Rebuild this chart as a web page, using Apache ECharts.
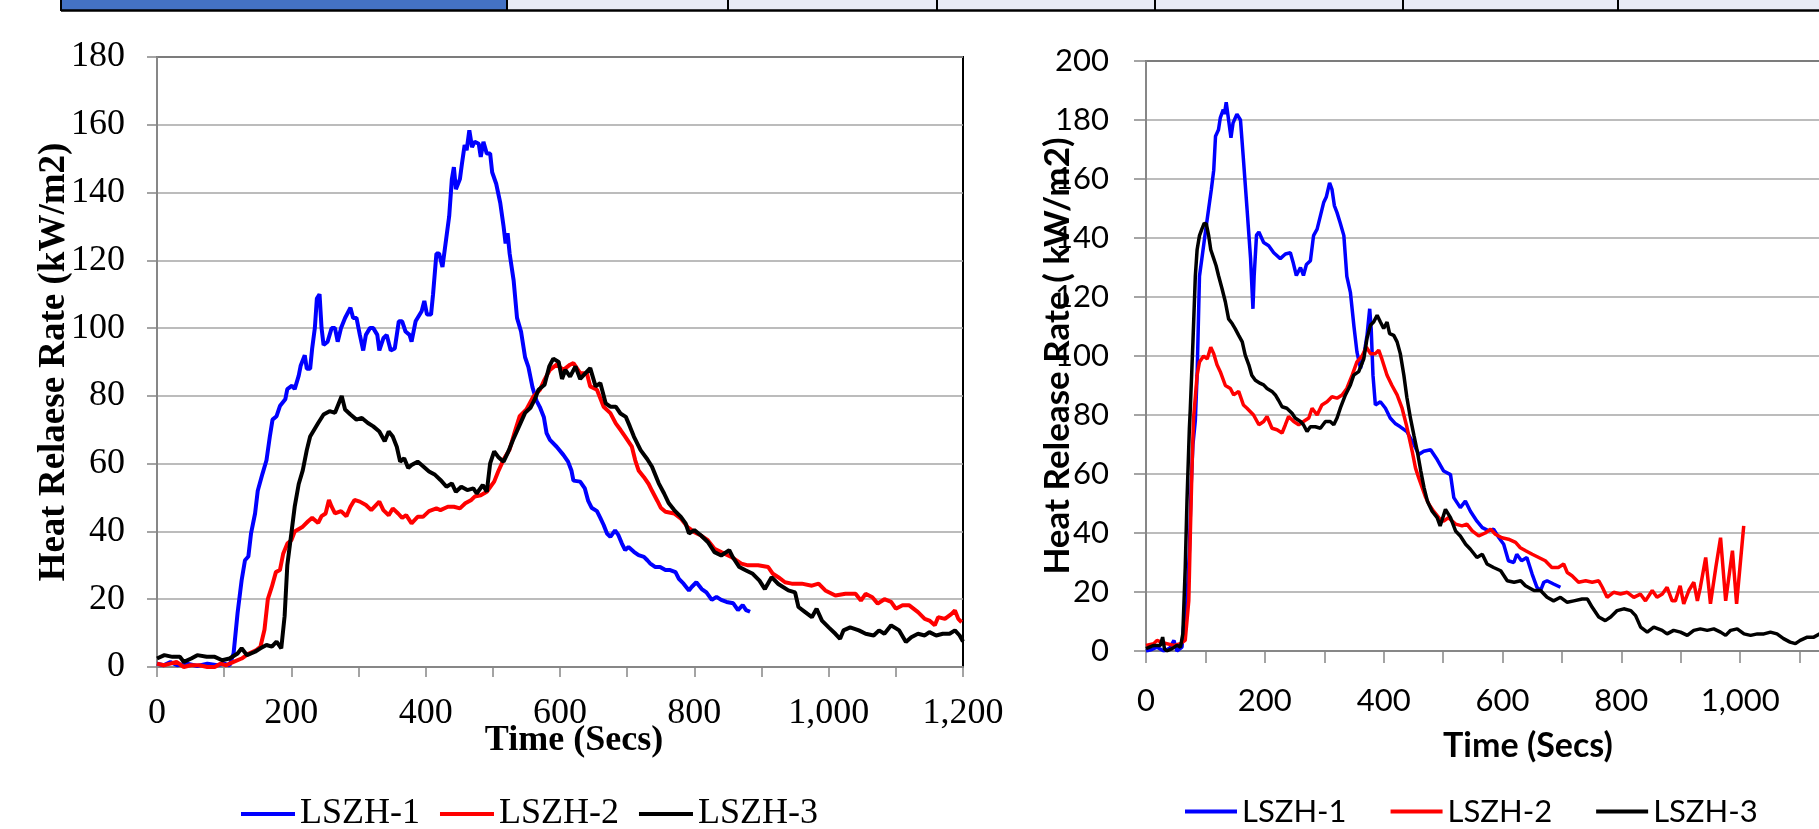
<!DOCTYPE html>
<html>
<head>
<meta charset="utf-8">
<title>Heat Release Rate - LSZH</title>
<script src="https://cdn.jsdelivr.net/npm/echarts@6.0.0/dist/echarts.min.js"></script>
<style>
  html, body { margin: 0; padding: 0; background: #fff; }
  #echart { width: 1819px; height: 829px; }
</style>
</head>
<body>
<div id="echart"></div>
<script>
const names = ['LSZH-1', 'LSZH-2', 'LSZH-3'];
const colors = ['#0000ff', '#ff0000', '#000000'];

// left chart: [time (secs), HRR (kW/m2)]
const leftLszh1 = [[0,1],[10,0.5],[20,1.5],[30,0.5],[45,1],[60,0.3],[75,1],[90,0.5],[100,1],[108,0.5],[114,4],[120,16],[126,25.6],[131,31.5],[136,32.6],[140,39.4],[146,45.3],[150,52],[157,57],[163,61],[168,68],[172,73],[178,74],[183,77],[191,79],[194,82],[201,83],[205,82],[211,86],[214,89],[220,92],[223,88],[228,88],[231,94],[235,100],[238,108.7],[242,110],[245,100],[248,95],[254,96],[260,100],[265,100],[269,96],[274,100],[280,103],[288,106],[292,103],[297,103],[302,98],[307,93.4],[311,98],[317,100],[322,100],[328,98],[331,93.4],[337,97],[342,98],[348,93.4],[354,94],[360,102],[365,102],[370,99],[376,98],[379,96],[385,102],[394,105],[398,108],[402,104],[408,104],[411,110],[416,122],[420,122],[425,118],[431,127],[435,133],[439,144],[442,147.5],[445,141],[451,144],[454,148.5],[458,154],[461,152.5],[465,158.4],[469,153.4],[473,155],[479,154.4],[482,150.5],[486,155],[491,151.5],[496,151.5],[499,146],[505,142.6],[511,137],[516,130],[519,125],[522,128],[525,122],[531,114],[536,103],[542,99],[548,91.4],[553,88.5],[559,82.6],[565,78.6],[570,76.7],[576,73.7],[580,69],[585,67],[595,65],[605,62.6],[612,60.6],[617,58],[620,55],[630,54.7],[637,52.7],[642,49],[647,47],[655,46],[660,44],[665,41.9],[670,39.4],[675,38.4],[682,40.3],[687,38.9],[692,36.5],[697,34.5],[702,35.4],[710,34],[717,33],[725,32.5],[730,31.5],[734,30.6],[742,29.5],[749,29.5],[757,28.6],[764,28.6],[772,28],[777,26],[784,24.6],[792,22.6],[796,23.6],[803,25],[811,23],[818,22],[826,19.8],[833,20.7],[840,19.8],[848,19.2],[858,18.8],[865,16.8],[872,18.3],[877,16.8],[883,16.3]];
const leftLszh2 = [[0,1],[10,0.5],[20,1],[29,1.5],[40,0],[50,0.5],[63,0.5],[75,0],[86,0],[95,1],[103,0.5],[114,1.5],[126,2.5],[137,4],[148,5],[154,6],[160,11],[165,20],[171,23.7],[177,28],[183,28.6],[188,33.5],[194,36.4],[200,37.4],[205,40],[217,41.4],[225,43],[231,44],[240,42.5],[245,44.5],[251,45.3],[256,49.3],[260,47.3],[265,45.3],[274,46],[282,44.5],[288,47.3],[294,49.3],[302,48.8],[311,47.8],[319,46.3],[331,48.8],[337,46.3],[345,44.8],[351,46.8],[359,45.3],[365,44],[371,44.8],[379,42.4],[388,44.3],[396,44.3],[405,46],[416,46.8],[422,46.3],[433,47.3],[442,47.3],[451,46.8],[459,48.3],[468,49.3],[473,50.3],[482,50.7],[491,51.7],[502,54.7],[508,57.7],[516,61.2],[525,64.2],[533,69.6],[540,74],[550,76],[560,79.7],[570,81.8],[577,84.8],[585,87.7],[595,89.2],[605,87.7],[615,89.2],[620,89.7],[630,86.7],[640,86.7],[645,82.8],[655,81.8],[665,76.8],[675,74.9],[683,71.9],[690,70],[697,68],[707,65],[712,61],[717,58],[725,56],[732,54],[737,52],[745,49],[750,47],[757,45.8],[770,45.3],[780,43.8],[790,41.3],[800,39.8],[810,38.8],[820,37.4],[830,34.9],[840,33.9],[855,32.5],[870,30.5],[880,30],[895,30],[910,29.5],[917,27.5],[925,26.5],[935,25],[945,24.6],[960,24.6],[975,24],[985,24.6],[995,22.6],[1010,21.1],[1025,21.6],[1040,21.6],[1048,19.6],[1055,21.6],[1065,20.6],[1073,18.7],[1083,20],[1093,19.2],[1100,17.2],[1110,18.2],[1120,18.2],[1133,16.2],[1143,14.2],[1150,13.7],[1158,12.3],[1163,14.7],[1173,14.2],[1183,15.7],[1188,16.7],[1193,14.2],[1198,13.2]];
const leftLszh3 = [[0,2.5],[11,3.5],[23,3],[34,3],[40,1.5],[51,2.5],[60,3.5],[74,3],[86,3],[97,2],[108,2.5],[120,4],[126,5.5],[134,3.5],[146,4.5],[154,5.5],[163,6.5],[171,6],[178,7.5],[185,5.5],[190,15],[194,30],[200,39.4],[205,47.3],[211,54],[217,58],[223,64],[228,68],[234,70],[240,72],[248,74.5],[257,75.5],[265,75],[271,78],[275,80],[280,76],[288,74.5],[297,73],[305,73.5],[314,72],[322,71],[331,69.5],[339,66.6],[345,69.5],[351,68],[357,65],[362,60.6],[368,61.6],[374,58.7],[379,59.6],[388,60.6],[394,59.6],[405,57.7],[414,56.7],[422,55.2],[431,53.2],[439,54.2],[445,51.7],[453,53.2],[462,52.2],[471,52.7],[476,51.2],[485,53.7],[491,51.7],[496,60.1],[502,63.6],[508,62],[516,60.6],[522,63.1],[530,67],[539,71],[548,75],[556,76.5],[562,78.8],[568,81.8],[577,83.3],[584,88.7],[590,91],[598,90],[603,85],[608,87.7],[615,85.7],[623,88.7],[630,85],[638,86.7],[645,88.2],[653,82.8],[660,83.8],[668,77.8],[675,76.8],[683,76.8],[690,74.8],[698,73.8],[704,71],[710,68],[720,64],[730,61.3],[737,59.1],[747,54.2],[755,51.2],[762,48.3],[770,46.3],[780,44.3],[787,42.4],[792,39.4],[800,40.4],[810,38.8],[820,36.9],[830,33.9],[840,32.9],[852,34.5],[857,32.5],[867,29.5],[877,28.5],[887,27.5],[897,25.5],[905,23],[915,26.5],[925,24.5],[940,22.6],[950,22],[955,17.7],[965,16.2],[975,14.7],[982,17.2],[990,13.7],[1000,11.7],[1010,9.8],[1017,8.3],[1022,10.8],[1032,11.7],[1045,10.8],[1055,9.8],[1067,9.3],[1075,10.8],[1083,9.8],[1093,12.3],[1105,10.8],[1115,7.4],[1123,8.8],[1133,9.8],[1143,9.3],[1150,10.3],[1160,9.3],[1170,9.8],[1180,9.8],[1188,10.8],[1195,9.3],[1200,7.5]];

// right chart: [time (secs), HRR (kW/m2)]
const rightLszh1 = [[0,0],[10,0.5],[18.5,1.3],[30,0],[40,1],[47,3.6],[52,0],[60.6,1.3],[63,8],[69,17],[73,34],[76,56],[79,70],[83,78],[86,93.5],[90,127],[94,133],[100,142],[105.5,150],[110,156.5],[114,163],[117,174.5],[122,176.7],[125,180.7],[130,183.5],[132,182],[135,186],[139,180],[143,174],[146.5,179],[153,182],[159,180],[164,166.6],[170,150],[176,133],[180,116],[182,127],[186,141],[190,142],[198,138.5],[206.5,137.4],[215,135],[226,133],[234.6,134.6],[243,135],[247.5,131.8],[253,127.3],[260,130],[265,127.3],[270,131],[276.7,132.3],[282,140.8],[288,143],[293.5,147.5],[299,152],[303.6,154],[309,158.7],[313,156.5],[317,151],[321.5,148.6],[327,145],[333,140.8],[338,127],[344,121.6],[350,110],[355,101.4],[361,95.8],[366.5,100],[372,107],[376.5,116],[379,109.3],[382,93.5],[386,83.4],[394.5,84.5],[403,82.3],[411,79],[420,77],[428,76],[439,74.4],[451,70],[459,66.6],[467.5,67.7],[479,68.2],[490,64.9],[501,61],[512.5,59.8],[518,52],[529,48.6],[537.5,50.8],[546,47.4],[557,44],[566,41.8],[577,40.7],[585,41.3],[594,38.4],[602,36.2],[610,30.6],[619,30],[624,32.8],[632,30.6],[641,31.7],[650,26],[658,21.6],[664,20.5],[669.5,23.3],[675,23.8],[686,22.7],[697.5,21.6]];
const rightLszh2 = [[0,1.9],[13,2.5],[18.5,3.6],[30,2.7],[47,1.9],[58,2.5],[66,3.6],[72,17],[74.6,39.6],[77.4,62],[80,79],[83,86],[86,93.5],[90,98],[97,100],[103,99],[109,103],[114,100.8],[119.5,97],[125,94.7],[133.6,90],[142,89],[147.6,86.8],[156,88],[164,83.4],[170,82.3],[181,80],[190,76.7],[198,77.8],[203.7,79.5],[212,75.5],[220.5,75],[229,73.9],[234.6,76.7],[240,79.5],[248.6,77.8],[257,76.7],[265,77.8],[274,79],[279.5,82.3],[288,80],[296,83.4],[304.7,84.5],[313,86.2],[321.5,85.7],[330,86.8],[338,89],[347,93.5],[355,98],[363.6,100],[371,103],[377.7,100.8],[386,100.8],[391.7,102],[397,99],[405.7,93.5],[414,90],[422.6,86.8],[431,82.3],[439,76],[448,67.7],[453.6,62],[459,58.7],[465,55.3],[470.8,52],[476.4,49.7],[484,47.4],[495,44.6],[501,44],[509,45.2],[521,43],[532,42.4],[540,43],[549,40.7],[560,39],[571,40],[580,41.3],[588,39.6],[599,38.4],[610,37.9],[622,36.8],[630,35],[639,34],[650,32.8],[661,31.7],[672,30.6],[683,28.3],[694,28.3],[703,29.5],[709,26.6],[717,25.5],[728,23.3],[740,23.8],[751,23.3],[762,23.8],[768,21.6],[776,18.2],[787,19.9],[798.6,19.3],[810,19.9],[821,18.2],[832,19.3],[840.6,17],[852,20.5],[860,18.2],[869,19.3],[877,21.6],[885.5,17],[891,17],[899,22.1],[905,16],[913.6,20.5],[922,23.3],[928,17],[933,21.6],[942,31.7],[950,16],[959,28.3],[967,38.4],[975.6,17],[987,34],[994,16],[999.6,28.3],[1006,42.4]];
const rightLszh3 = [[0,0.8],[13,1.9],[24,1.9],[28,4.7],[31,0.8],[35,0],[44,0.8],[52,1.9],[58,1.3],[62,5.8],[66,28],[69,51],[73,75.5],[74.6,82.3],[79,104.8],[83,127],[86,136],[90,140.8],[94,143],[98,145],[101.6,144.7],[105.5,140.8],[109,136],[114,133],[118,130.6],[122,127.3],[128,122.8],[133.6,118.3],[139,112.6],[145,111],[150,109.3],[156,107],[162,104.8],[167,100.3],[173,97],[178,93.5],[184,91.8],[192.5,90.7],[198,90.2],[203.7,89],[212,88],[217.7,86.8],[223,85],[229,82.8],[237,82.3],[245.8,80.6],[251,79],[260,77.8],[265,76.7],[271,74.4],[276.7,76],[285,76],[293.5,75.5],[302,77.8],[310,77.8],[316,76.7],[321.5,79],[327,82.3],[335.6,86.8],[344,90.2],[349.6,93.5],[358,94.7],[366.5,99],[372,106],[377.7,110.4],[383,111.5],[389,113.8],[394.5,111.5],[400,109.3],[405.7,111.5],[410,107.6],[417,107],[422.6,104.8],[428,100.8],[434,93.5],[439,86],[445,79],[451,73],[456.6,67.7],[462.5,61],[468,55.3],[473.6,50.8],[481.5,47.4],[490,45.2],[495,42.4],[504,48],[512.5,45.2],[521,40.7],[529,39],[538,36.2],[546,34.5],[557,31.7],[566,32.8],[574,29.5],[585,28.3],[597,27.2],[608,23.8],[619.5,23.3],[630.6,23.8],[638.6,22.1],[653,20.5],[664,20.5],[675,18.2],[686,17],[697.5,18.2],[709,16.5],[720,17],[734,17.6],[743,17.6],[751,14.8],[762,11.5],[773,10.3],[782,11.5],[793,13.7],[804,14.3],[816,13.7],[824,12],[832.5,8.1],[843.6,6.4],[854.6,8.1],[868.7,7],[877,5.8],[888,7],[899.6,6.4],[911,5.3],[922,7],[933,7.5],[944.6,7],[955.6,7.5],[967,6.4],[975.6,5.3],[984,7],[995,7.5],[1006.5,5.8],[1017.5,5.3],[1029,5.8],[1040,5.8],[1051,6.4],[1062,5.8],[1073,4.2],[1084,3],[1093,2.5],[1101,3.6],[1113,4.7],[1124,4.7],[1134,5.8],[1145,6]];

const leftData = [leftLszh1, leftLszh2, leftLszh3];
const rightData = [rightLszh1, rightLszh2, rightLszh3];
const lineWidths = [4, 3.5];

const SERIF = 'Liberation Serif';
const SANS = 'Lato';

const chart = echarts.init(document.getElementById('echart'));

// x labels only every 200 s, ticks every 100 s
function timeLabel(v) {
    return v % 200 === 0 ? v.toLocaleString('en-US') : '';
}

function makeXAxis(idx, font, size, tickLen, margin) {
    return {
        gridIndex: idx, type: 'value', min: 0, max: 1200, interval: 100, z: 1,
        axisLine: { show: true, lineStyle: { color: '#878787', width: 2 } },
        axisTick: { show: true, length: tickLen, lineStyle: { color: '#878787', width: 1.5 } },
        axisLabel: { formatter: timeLabel, fontFamily: font, fontSize: size, color: '#000', margin: margin, showMaxLabel: true },
        splitLine: { show: false }
    };
}

function makeYAxis(idx, max, font, size, tickLen, margin, title, titleSize, gap) {
    return {
        gridIndex: idx, type: 'value', min: 0, max: max, interval: 20, z: 1,
        axisLine: { show: true, lineStyle: { color: '#878787', width: 2 } },
        axisTick: { show: true, length: tickLen, lineStyle: { color: '#878787', width: 1.5 } },
        axisLabel: { fontFamily: font, fontSize: size, color: '#000', margin: margin },
        splitLine: { show: true, lineStyle: { color: '#a6a6a6', width: 1.5 } },
        name: title, nameLocation: 'middle', nameGap: gap, nameMoveOverlap: false,
        nameTextStyle: { fontFamily: font, fontSize: titleSize, fontWeight: 'bold', color: '#000' }
    };
}

const series = [];
[leftData, rightData].forEach(function (set, g) {
    set.forEach(function (d, i) {
        series.push({
            name: names[i], type: 'line', xAxisIndex: g, yAxisIndex: g,
            data: d, showSymbol: false, symbol: 'none', color: colors[i],
            lineStyle: { width: lineWidths[g], color: colors[i] }, z: 2
        });
    });
});

// table row peeking in at the top of the page
const cellEdges = [61, 507, 728, 937, 1155, 1403, 1618];
const graphics = [
    { type: 'rect', shape: { x: 61, y: 0, width: 446, height: 10 }, style: { fill: '#4472c4' } },
    { type: 'rect', shape: { x: 507, y: 0, width: 1312, height: 10 }, style: { fill: '#e9ebf5' } },
    { type: 'line', shape: { x1: 61, y1: 10.5, x2: 1819, y2: 10.5 }, style: { stroke: '#000', lineWidth: 2.5 } }
];
cellEdges.forEach(function (x) {
    graphics.push({ type: 'line', shape: { x1: x, y1: 0, x2: x, y2: 11 }, style: { stroke: '#000', lineWidth: 2 } });
});
graphics.push({
    type: 'text', x: 574, y: 741,
    style: { text: 'Time (Secs)', font: 'bold 36px "Liberation Serif"', fill: '#000',
        textAlign: 'center', textVerticalAlign: 'middle', align: 'center', verticalAlign: 'middle' }
});
graphics.push({
    type: 'text', x: 1528, y: 746,
    style: { text: 'Time (Secs)', font: 'bold 34px Lato', fill: '#000',
        textAlign: 'center', textVerticalAlign: 'middle', align: 'center', verticalAlign: 'middle' }
});

const option = {
    animation: false,
    backgroundColor: '#fff',
    graphic: graphics,
    grid: [
        { left: 157, top: 57, width: 806, height: 610, show: true, borderColor: '#000', borderWidth: 2, z: 0, outerBoundsMode: 'none' },
        { left: 1146, top: 61, width: 713, height: 590, show: true, borderColor: '#000', borderWidth: 2, z: 0, outerBoundsMode: 'none' }
    ],
    legend: [
        { data: names, left: 241, top: 796, padding: 0, icon: 'rect', itemWidth: 54, itemHeight: 4, itemGap: 20,
          textStyle: { fontFamily: SERIF, fontSize: 36, color: '#000' } },
        { data: names, left: 1185, top: 796, padding: 0, icon: 'rect', itemWidth: 52, itemHeight: 4, itemGap: 44,
          textStyle: { fontFamily: SANS, fontSize: 31, color: '#000' } }
    ],
    xAxis: [
        makeXAxis(0, SERIF, 36, 10, 29),
        makeXAxis(1, SANS, 31, 12, 34)
    ],
    yAxis: [
        makeYAxis(0, 180, SERIF, 36, 10, 32, 'Heat Relaese Rate (kW/m2)', 37, 84),
        makeYAxis(1, 200, SANS, 31, 12, 37, 'Heat Release Rate ( kW/m2)', 35, 71)
    ],
    series: series
};

chart.setOption(option);
</script>
</body>
</html>
